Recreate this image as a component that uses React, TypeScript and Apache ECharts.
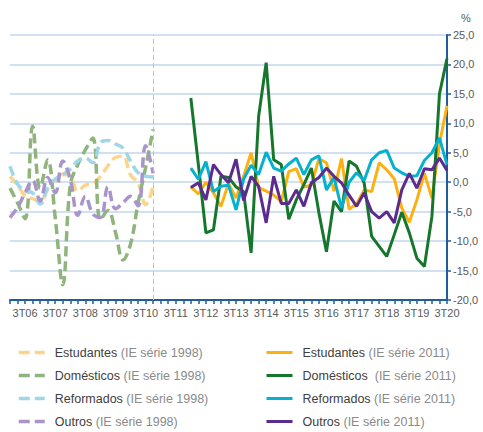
import React, { useEffect, useRef } from "react";
import * as echarts from "echarts";

const years = ["06", "07", "08", "09", "10", "11", "12", "13", "14", "15", "16", "17", "18", "19", "20"];
const quarterNames = ["1T", "2T", "3T", "4T"];
const categories: string[] = years.flatMap((y) => quarterNames.map((q) => `${q}${y}`)).slice(0, 59);

// IE série 1998: 1T06 .. 4T10
const start1998 = 0;
const estudantes1998 = [1.0, -0.5, -2.3, -2.8, -3.2, -1.2, 0.4, 1.3, 1.0, -1.5, -0.5, -0.3, 1.0, 2.8, 4.2, 4.4, 1.2, -0.1, -3.8, -0.7];
const domesticos1998 = [-1.0, -3.5, -6.2, 9.5, -1.0, 3.8, -6.0, -17.4, -0.5, 3.0, 5.5, 7.5, -6.4, -4.8, -8.5, -13.2, -10.5, -3.5, 2.5, 9.0];
const reformados1998 = [2.7, -0.3, -1.5, -1.8, -3.7, -1.0, 0.5, 1.3, 2.2, 3.6, 4.1, 3.3, 6.7, 7.1, 6.5, 5.8, 3.6, 1.6, 1.0, 0.9];
const outros1998 = [-6.0, -4.3, -1.8, 0.3, -3.2, 0.8, -1.8, 3.6, 0.5, -5.6, -2.4, -5.4, -6.0, -0.8, -4.5, -3.5, -2.4, -4.0, 6.2, 1.5];

// IE série 2011: 1T12 .. 3T20
const start2011 = 24;
const estudantes2011 = [-0.8, -2.0, 0.0, -1.8, -4.1, -0.2, -2.7, 1.0, 5.0, -0.9, -1.5, -2.2, -3.3, 1.8, 2.3, -0.8, -0.5, 4.0, 3.3, -1.5, 4.0, -4.6, -3.7, -1.3, -1.6, 3.3, 2.1, 0.6, -4.4, -6.8, -3.0, 1.5, -2.7, 6.5, 13.0];
const domesticos2011 = [14.3, 3.0, -8.6, -8.1, 1.0, 0.8, -0.8, -1.6, -12.0, 11.2, 20.3, 3.8, 3.0, -6.3, -3.0, -0.4, 2.4, -5.2, -11.8, -3.2, -5.0, 3.6, 2.7, -0.1, -9.2, -10.9, -12.6, -8.9, -5.1, -8.6, -12.9, -14.3, -5.8, 15.0, 21.0];
const reformados2011 = [2.4, 0.5, 3.5, -1.6, -0.7, -0.5, -4.7, 0.5, 2.9, 1.3, 5.1, 2.4, 1.9, 3.1, 4.1, 1.3, 3.8, 4.5, -1.3, 0.8, -4.4, 0.0, 1.6, 0.3, 3.8, 5.0, 5.4, 2.4, 1.6, 1.0, 1.1, 3.7, 5.0, 7.5, 3.0];
const outros2011 = [-0.9, -0.1, -3.0, 3.0, 1.3, -0.1, 3.9, -3.1, 1.0, -0.7, -6.9, 1.0, -3.6, -3.6, -1.3, -4.1, -0.1, 0.8, 2.4, 1.0, -0.1, -2.2, -4.1, -1.8, -5.0, -6.1, -5.0, -6.9, -1.3, 1.5, -1.0, 2.3, 2.1, 4.1, 2.0];

const breakCategory = "4T10";
const yTicks = { min: -20, max: 25, interval: 5 };

const names1998 = ["Estudantes (IE série 1998)", "Domésticos (IE série 1998)", "Reformados (IE série 1998)", "Outros (IE série 1998)"];
const names2011 = ["Estudantes (IE série 2011)", "Domésticos  (IE série 2011)", "Reformados (IE série 2011)", "Outros (IE série 2011)"];
const colors1998 = ["#fdd58a", "#8fb47c", "#9fd7e8", "#a995cb"];
const colors2011 = ["#fdb111", "#16772c", "#06b1cf", "#5b2c8e"];

const FONT = "Liberation Sans, Arial, sans-serif";

function toPairs(values: number[], start: number) {
  return values.map((v, i) => [categories[start + i], v]);
}

export default function App() {
  const ref = useRef<HTMLDivElement>(null);
  useEffect(() => {
    if (!ref.current) return;
    document.body.style.margin = "0";
    const chart = echarts.init(ref.current, undefined, { renderer: "svg" });
    const data1998 = [estudantes1998, domesticos1998, reformados1998, outros1998];
    const data2011 = [estudantes2011, domesticos2011, reformados2011, outros2011];

    const series: any[] = [];
    data1998.forEach((d, i) => {
      const s: any = {
        name: names1998[i],
        type: "line",
        data: toPairs(d, start1998),
        smooth: 0.4,
        symbol: "none",
        z: 2,
        lineStyle: { color: colors1998[i], width: 3.5, type: [10, 5] },
        itemStyle: { color: colors1998[i] },
      };
      if (i === 0) {
        s.markLine = {
          silent: true,
          symbol: "none",
          label: { show: false },
          lineStyle: { type: [5, 3], color: "#a9c6e6", width: 1 },
          data: [{ xAxis: breakCategory }],
        };
      }
      series.push(s);
    });
    data2011.forEach((d, i) => {
      series.push({
        name: names2011[i],
        type: "line",
        data: toPairs(d, start2011),
        symbol: "none",
        z: 3,
        lineStyle: { color: colors2011[i], width: 3 },
        itemStyle: { color: colors2011[i] },
      });
    });

    const legendFormatter = (name: string) => {
      const idx = name.indexOf("(");
      const a = name.slice(0, idx);
      const b = name.slice(idx);
      return `{a|${a}}{b|${b}}`;
    };
    const legendCommon = {
      orient: "vertical",
      top: 346,
      padding: 0,
      itemGap: 10,
      itemWidth: 26,
      itemHeight: 14,
      formatter: legendFormatter,
      itemStyle: { opacity: 0 },
      textStyle: {
        padding: [0, 0, 0, 5],
        rich: {
          a: { fontFamily: FONT, fontSize: 12.5, color: "#404040" },
          b: { fontFamily: FONT, fontSize: 12.5, color: "#8a8a8a" },
        },
      },
    };

    chart.setOption({
      animation: false,
      textStyle: { fontFamily: FONT },
      grid: { left: 10, right: 36, top: 35, bottom: 132 },
      legend: [
        { ...legendCommon, left: 17, data: names1998, lineStyle: { width: 3.5, type: [11, 5] } },
        { ...legendCommon, left: 265, data: names2011, lineStyle: { width: 3, type: "solid" } },
      ],
      graphic: [
        {
          type: "text",
          left: 461,
          top: 12,
          style: { text: "%", fontFamily: FONT, fontSize: 11, fill: "#595959" },
        },
      ],
      xAxis: {
        type: "category",
        data: categories,
        boundaryGap: false,
        axisLine: { onZero: false, lineStyle: { color: "#1f5d9b", width: 2 } },
        axisTick: { show: true, interval: 0, length: 4, lineStyle: { color: "#1f5d9b", width: 1.5 } },
        axisLabel: {
          interval: (index: number) => index % 4 === 2,
          color: "#595959",
          fontSize: 11,
          fontFamily: FONT,
          margin: 7,
        },
        splitLine: { show: false },
      },
      yAxis: {
        type: "value",
        position: "right",
        min: yTicks.min,
        max: yTicks.max,
        interval: yTicks.interval,
        axisLine: { show: true, lineStyle: { color: "#1f5d9b", width: 2 } },
        axisTick: { show: true, length: 4, lineStyle: { color: "#1f5d9b", width: 1.5 } },
        axisLabel: {
          color: "#595959",
          fontSize: 11,
          fontFamily: FONT,
          margin: 6,
          formatter: (v: number) => v.toFixed(1).replace(".", ","),
        },
        splitLine: { show: true, lineStyle: { color: "#c3d7ec", width: 1.5 } },
      },
      series,
    });
    return () => chart.dispose();
  }, []);
  return <div ref={ref} style={{ width: 483, height: 432 }} />;
}
